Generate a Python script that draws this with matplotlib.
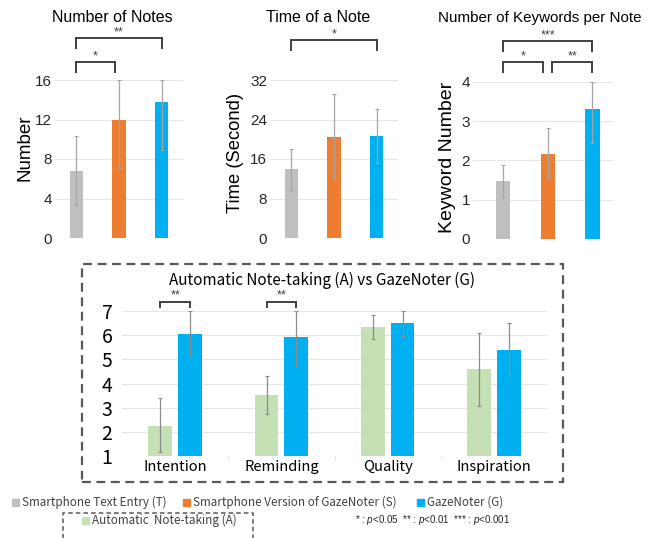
import matplotlib
matplotlib.use('Agg')
import matplotlib.pyplot as plt
from matplotlib import font_manager
from matplotlib.patches import Rectangle
import numpy as np

plt.rcParams['font.family'] = ['Liberation Sans', 'DejaVu Sans']
plt.rcParams['mathtext.fontset'] = 'custom'
plt.rcParams['mathtext.rm'] = 'Liberation Sans'
plt.rcParams['mathtext.it'] = 'Liberation Sans:italic'

# --- data ---
conditions = ['Smartphone Text Entry (T)', 'Smartphone Version of GazeNoter (S)', 'GazeNoter (G)']
cond_colors = ['#BFBFBF', '#ED7D31', '#00B0F0']

notes_mean = [6.8, 12.0, 13.8]
notes_lo = [3.3, 7.1, 8.9]
notes_hi = [10.3, 16.0, 16.0]

time_mean = [14.0, 20.5, 20.7]
time_lo = [9.7, 12.0, 15.2]
time_hi = [18.0, 29.2, 26.1]

kw_mean = [1.48, 2.17, 3.31]
kw_lo = [1.07, 1.55, 2.45]
kw_hi = [1.88, 2.83, 4.0]

aspects = ['Intention', 'Reminding', 'Quality', 'Inspiration']
auto_mean = [2.25, 3.51, 6.34, 4.60]
auto_lo = [1.15, 2.72, 5.83, 3.08]
auto_hi = [3.41, 4.32, 6.82, 6.08]
gaze_mean = [6.06, 5.92, 6.49, 5.40]
gaze_lo = [5.08, 4.67, 5.98, 4.35]
gaze_hi = [7.0, 7.0, 7.0, 6.49]

W, H = 655, 538
fig = plt.figure(figsize=(W / 100, H / 100), dpi=100)

installed = {f.name for f in font_manager.fontManager.ttflist}
if 'Liberation Sans Narrow' in installed:
    leg_family, leg_size = ['Liberation Sans Narrow', 'DejaVu Sans'], 10.5
else:
    leg_family, leg_size = ['Noto Sans CJK TC', 'DejaVu Sans'], 8.4


def px_box(x0, y0, x1, y1):
    # pixel box (top-left origin) -> figure fraction rect
    return [x0 / W, 1 - y1 / H, (x1 - x0) / W, (y1 - y0) / H]


def bracket(ax, x0, x1, y, leg, label, size=9):
    ax.plot([x0, x0, x1, x1], [y - leg, y, y, y - leg], color='#404040',
            lw=1.4, clip_on=False, solid_joinstyle='miter')
    ax.text((x0 + x1) / 2, y, label, ha='center', va='bottom', fontsize=size,
            color='#404040')


def top_panel(box, xlim, mean, lo, hi, ymax, step):
    ax = fig.add_axes(px_box(*box))
    x = np.arange(len(mean))
    mean = np.array(mean)
    yerr = [mean - np.array(lo), np.array(hi) - mean]
    ax.bar(x, mean, width=0.32, color=cond_colors, zorder=2)
    ax.errorbar(x, mean, yerr=yerr, fmt='none', ecolor='#A6A6A6',
                elinewidth=0.9, capsize=1.2, capthick=0.8, zorder=3)
    ax.set_xlim(*xlim)
    ax.set_ylim(0, ymax)
    ax.set_yticks(np.arange(0, ymax + step / 2, step))
    ax.set_xticks([])
    ax.yaxis.grid(True, color='#E6E6E6', lw=0.8)
    ax.set_axisbelow(True)
    for s in ax.spines.values():
        s.set_visible(False)
    ax.tick_params(axis='y', length=0, pad=2, labelsize=11, colors='#262626')
    return ax


ax1 = top_panel((55, 80, 183, 238), (-0.5, 2.5), notes_mean, notes_lo, notes_hi, 16, 4)
bracket(ax1, 0, 0.9, 17.8, 1.0, '*')
bracket(ax1, 0, 2, 20.25, 1.0, '**')
fig.text(112 / W, 1 - 17 / H, 'Number of Notes', ha='center', va='center', fontsize=11.5)
fig.text(25 / W, 1 - 148 / H, 'Number', rotation=90, ha='center', va='center', fontsize=13.5)

ax2 = top_panel((270, 80, 398, 238), (-0.5, 2.5), time_mean, time_lo, time_hi, 32, 8)
bracket(ax2, 0, 2, 40.1, 2.0, '*')
fig.text(318 / W, 1 - 17 / H, 'Time of a Note', ha='center', va='center', fontsize=11.5)
fig.text(235 / W, 1 - 153 / H, 'Time (Second)', rotation=90, ha='center', va='center', fontsize=13.2)

ax3 = top_panel((473, 82, 613, 239), (-0.67, 2.46), kw_mean, kw_lo, kw_hi, 4, 1)
bracket(ax3, 0, 0.9, 4.51, 0.26, '*')
bracket(ax3, 1.1, 2, 4.51, 0.26, '**')
bracket(ax3, 0, 2, 5.04, 0.26, '***')
fig.text(540 / W, 1 - 18 / H, 'Number of Keywords per Note', ha='center', va='center', fontsize=10.9)
fig.text(448 / W, 1 - 157 / H, 'Keyword Number', rotation=90, ha='center', va='center', fontsize=14)

# --- bottom panel: Automatic Note-taking vs GazeNoter ---
cjk = ['Noto Sans CJK TC', 'DejaVu Sans']
ax4 = fig.add_axes(px_box(122, 311, 547, 456))
xa = np.arange(len(aspects))
am = np.array(auto_mean)
gm = np.array(gaze_mean)
ax4.bar(xa - 0.14, am - 1, bottom=1, width=0.225, color='#C5E0B4', zorder=2)
ax4.bar(xa + 0.14, gm - 1, bottom=1, width=0.225, color='#00B0F0', zorder=2)
ax4.errorbar(xa - 0.14, am, yerr=[am - np.array(auto_lo), np.array(auto_hi) - am],
             fmt='none', ecolor='#8C8C8C', elinewidth=0.9, capsize=1.5, capthick=0.8, zorder=3)
ax4.errorbar(xa + 0.14, gm, yerr=[gm - np.array(gaze_lo), np.array(gaze_hi) - gm],
             fmt='none', ecolor='#8C8C8C', elinewidth=0.9, capsize=1.5, capthick=0.8, zorder=3)
ax4.set_xlim(-0.5, 3.5)
ax4.set_ylim(1, 7)
ax4.set_yticks(range(1, 8))
ax4.yaxis.grid(True, color='#E6E6E6', lw=0.8)
ax4.set_axisbelow(True)
for s in ax4.spines.values():
    s.set_visible(False)
ax4.set_xticks(xa)
ax4.set_xticklabels(aspects, family=cjk, fontsize=10.6)
ax4.set_xticks([0.5, 1.5, 2.5], minor=True)
ax4.tick_params(axis='x', which='major', length=0, pad=3)
ax4.tick_params(axis='x', which='minor', length=3, color='#D9D9D9')
ax4.tick_params(axis='y', length=0, pad=7, labelsize=14)
for t in ax4.get_yticklabels():
    t.set_family(cjk)
bracket(ax4, -0.14, 0.14, 7.38, 0.22, '**')
bracket(ax4, 0.86, 1.14, 7.38, 0.22, '**')
fig.text(322 / W, 1 - 280 / H, 'Automatic Note-taking (A) vs GazeNoter (G)', ha='center',
         va='center', fontsize=11, family=cjk)

fig.patches.append(Rectangle((82 / W, 1 - 482 / H), 481 / W, 218 / H, transform=fig.transFigure,
                             fill=False, ls=(0, (4, 2.5)), lw=1.6, ec='#595959'))

# --- legend ---
legend_items = [(12, 502, conditions[0], cond_colors[0]),
                (183, 502, conditions[1], cond_colors[1]),
                (417, 502, conditions[2], cond_colors[2]),
                (82, 520, 'Automatic  Note-taking (A)', '#C5E0B4')]
for lx, ly, label, col in legend_items:
    fig.patches.append(Rectangle((lx / W, 1 - (ly + 3.5) / H), 7 / W, 7 / H,
                                 transform=fig.transFigure, color=col))
    fig.text((lx + 10) / W, 1 - ly / H, label, ha='left', va='center', fontsize=leg_size,
             family=leg_family, color='#404040')

fig.patches.append(Rectangle((63 / W, 1 - 548 / H), 190 / W, 35 / H, transform=fig.transFigure,
                             fill=False, ls=(0, (3, 2)), lw=1.1, ec='#595959', clip_on=False))

fig.text(355 / W, 1 - 520 / H,
         r'* : $\mathit{p}$<0.05  ** : $\mathit{p}$<0.01  *** : $\mathit{p}$<0.001',
         ha='left', va='center', fontsize=7, color='#262626')

fig.savefig('out.png', dpi=100)
